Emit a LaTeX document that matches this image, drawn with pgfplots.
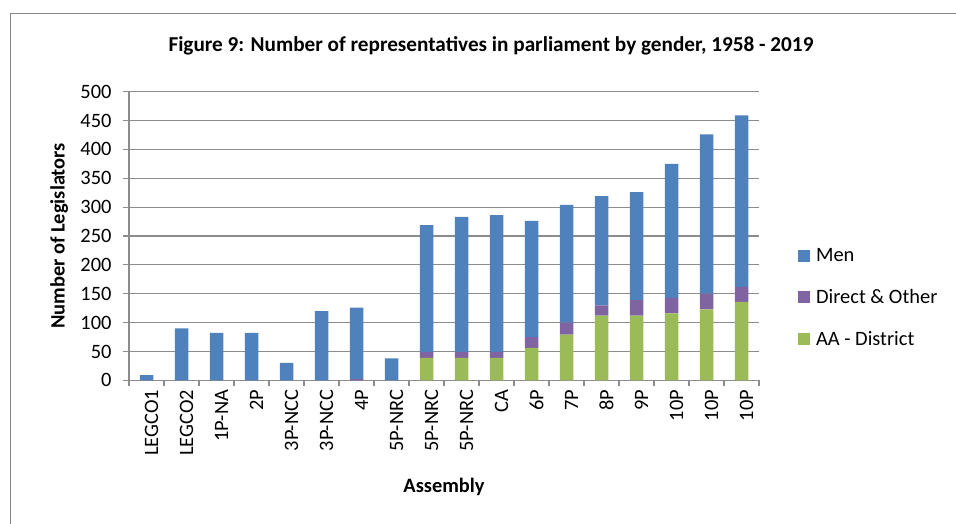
\documentclass[border=0pt]{standalone}
\usepackage{fontspec}
\setmainfont{Carlito}
\usepackage{pgfplots}
\pgfplotsset{compat=1.18}
\usepackage{pgfplotstable}
\definecolor{menblue}{HTML}{4F81BD}
\definecolor{dirpurple}{HTML}{8064A2}
\definecolor{aagreen}{HTML}{9BBB59}
\definecolor{gridgray}{HTML}{8C8C8C}
\definecolor{framegray}{HTML}{868686}

\pgfplotstableread{
x aa direct men
0 0 0 9
1 0 0 90
2 0 0 82
3 0 0 82
4 0 0 30
5 0 0 120
6 0 2 124
7 0 0 38
8 39 10 220
9 39 10 234
10 39 10 237
11 56 19 201
12 79 21 204
13 112 18 189
14 112 27 187
15 116 27 232
16 123 27 276
17 136 26 297
}\data

\newcommand{\cf}{\fontsize{20.5}{24}\selectfont}

\begin{document}
\begin{tikzpicture}
\useasboundingbox (0bp,0bp) rectangle (956bp,-524bp);
\draw[framegray, line width=1bp] (10bp,-540bp) -- (10bp,-13.3bp) -- (970bp,-13.3bp);
\node[font=\fontsize{21.3}{25}\selectfont\bfseries] at (491bp,-46bp) {Figure 9: Number of representatives in parliament by gender, 1958 - 2019};
\begin{axis}[
  at={(129bp,-380.3bp)}, anchor=south west,
  width=630bp, height=288.6bp, scale only axis,
  /pgf/number format/assume math mode=true,
  ybar stacked, bar width=13.5bp,
  xmin=-0.5, xmax=17.5, ymin=0, ymax=500,
  ytick={0,50,...,500},
  xtick={0,...,17},
  xticklabels={LEGCO1,LEGCO2,1P-NA,2P,3P-NCC,3P-NCC,4P,5P-NRC,5P-NRC,5P-NRC,CA,6P,7P,8P,9P,10P,10P,10P},
  minor xtick={-0.5,0.5,...,17.5},
  major x tick style={draw=none},
  tick align=outside,
  major tick length=6bp, minor tick length=6bp,
  tick style={gridgray, line width=1.2bp},
  axis x line*=bottom, axis y line*=left,
  axis line style={gridgray, line width=1.2bp},
  ymajorgrids, grid style={gridgray, line width=1.2bp},
  ticklabel style={font=\cf},
  yticklabel style={xshift=-8bp},
  xticklabel style={rotate=90, anchor=east, yshift=-5bp},
  xlabel={Assembly}, ylabel={Number of Legislators},
  label style={font=\cf\bfseries},
  xlabel style={at={(axis description cs:0.5,-0.37)}, anchor=center},
  ylabel style={at={(axis description cs:-0.111,0.5)}, anchor=center},
  reverse legend,
  legend cell align=left,
  legend style={at={(axis description cs:1.057,0.47)}, anchor=north west,
    draw=none, fill=none, font=\cf, row sep=22bp},
  legend image code/.code={\fill[#1,draw=none] (0bp,-6bp) rectangle (12bp,6bp); \path (16bp,0bp);},
]
\addplot[fill=aagreen, draw=none] table[x=x, y=aa] {\data};
\addplot[fill=dirpurple, draw=none] table[x=x, y=direct] {\data};
\addplot[fill=menblue, draw=none] table[x=x, y=men] {\data};
\legend{AA - District, Direct \& Other, Men}
\end{axis}
\end{tikzpicture}
\end{document}
